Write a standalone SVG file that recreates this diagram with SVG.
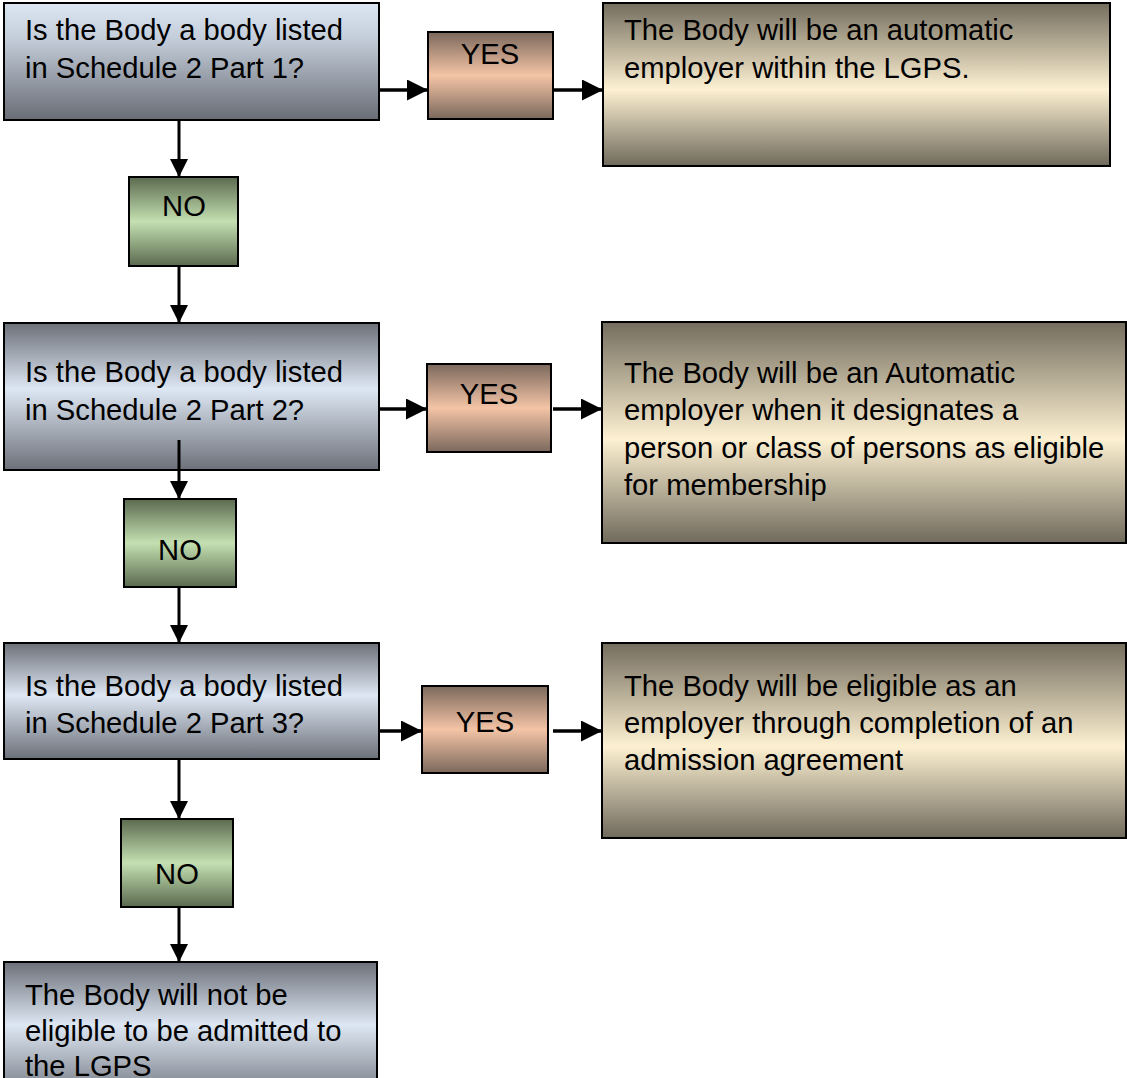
<svg xmlns="http://www.w3.org/2000/svg" width="1127" height="1078" viewBox="0 0 1127 1078">
<defs>
<linearGradient id="gBlueTop" x1="0" y1="0" x2="0" y2="1">
<stop offset="0" stop-color="#dde7f3"/>
<stop offset="0.3" stop-color="#c4ceda"/>
<stop offset="1" stop-color="#686c75"/>
</linearGradient>
<linearGradient id="gBlue" x1="0" y1="0" x2="0" y2="1">
<stop offset="0" stop-color="#6c7079"/>
<stop offset="0.45" stop-color="#dde7f3"/>
<stop offset="1" stop-color="#6c7079"/>
</linearGradient>
<linearGradient id="gYes" x1="0" y1="0" x2="0" y2="1">
<stop offset="0" stop-color="#7b685c"/>
<stop offset="0.5" stop-color="#f4c4a6"/>
<stop offset="1" stop-color="#7b685c"/>
</linearGradient>
<linearGradient id="gNo" x1="0" y1="0" x2="0" y2="1">
<stop offset="0" stop-color="#5b6a4f"/>
<stop offset="0.5" stop-color="#c4e0b1"/>
<stop offset="1" stop-color="#5b6a4f"/>
</linearGradient>
<linearGradient id="gRes" x1="0" y1="0" x2="0" y2="1">
<stop offset="0" stop-color="#746d5e"/>
<stop offset="0.53" stop-color="#fdf1d2"/>
<stop offset="1" stop-color="#706a5c"/>
</linearGradient>
<marker id="arr" markerWidth="6" markerHeight="6" refX="6" refY="3" orient="auto" markerUnits="strokeWidth">
<path d="M0,0 L6,3 L0,6 Z" fill="#000"/>
</marker>
<style>
.box{stroke:#000;stroke-width:2}
.t{font-family:"Liberation Sans",Arial,sans-serif;font-size:29.2px;fill:#000}
.c{text-anchor:middle}
.ln{stroke:#000;stroke-width:3;fill:none;marker-end:url(#arr)}
.lh{stroke:#000;stroke-width:3.5;fill:none;marker-end:url(#arr)}
</style>
</defs>
<rect width="1127" height="1078" fill="#fff"/>

<g id="connectors">
<line class="ln" x1="179" y1="120" x2="179" y2="177"/>
<line class="ln" x1="179" y1="266" x2="179" y2="323"/>
<line class="ln" x1="179" y1="440" x2="179" y2="499"/>
<line class="ln" x1="179" y1="587" x2="179" y2="643"/>
<line class="ln" x1="179" y1="759" x2="179" y2="819"/>
<line class="ln" x1="179" y1="907" x2="179" y2="962"/>
<line class="lh" x1="379" y1="90" x2="428" y2="90"/>
<line class="lh" x1="553" y1="90" x2="603" y2="90"/>
<line class="lh" x1="379" y1="409" x2="427" y2="409"/>
<line class="lh" x1="553" y1="409" x2="602" y2="409"/>
<line class="lh" x1="379" y1="731" x2="422" y2="731"/>
<line class="lh" x1="553" y1="731" x2="602" y2="731"/>
</g>

<g id="q1">
<rect class="box" x="4" y="3" width="375" height="117" fill="url(#gBlueTop)"/>
<text class="t" x="25" y="40">Is the Body a body listed</text>
<text class="t" x="25" y="78">in Schedule 2 Part 1?</text>
</g>
<g id="yes1">
<rect class="box" x="428" y="32" width="125" height="87" fill="url(#gYes)"/>
<text class="t c" x="490" y="64">YES</text>
</g>
<g id="r1">
<rect class="box" x="603" y="3" width="507" height="163" fill="url(#gRes)"/>
<text class="t" x="624" y="40">The Body will be an automatic</text>
<text class="t" x="624" y="78">employer within the LGPS.</text>
</g>
<g id="no1">
<rect class="box" x="129" y="177" width="109" height="89" fill="url(#gNo)"/>
<text class="t c" x="184" y="216">NO</text>
</g>

<g id="q2">
<rect class="box" x="4" y="323" width="375" height="147" fill="url(#gBlue)"/>
<text class="t" x="25" y="382">Is the Body a body listed</text>
<text class="t" x="25" y="420">in Schedule 2 Part 2?</text>
</g>
<line class="ln" x1="179" y1="440" x2="179" y2="470" style="marker-end:none"/>
<g id="yes2">
<rect class="box" x="427" y="364" width="124" height="88" fill="url(#gYes)"/>
<text class="t c" x="489" y="404">YES</text>
</g>
<g id="r2">
<rect class="box" x="602" y="322" width="524" height="221" fill="url(#gRes)"/>
<text class="t" x="624" y="383">The Body will be an Automatic</text>
<text class="t" x="624" y="420">employer when it designates a</text>
<text class="t" x="624" y="458">person or class of persons as eligible</text>
<text class="t" x="624" y="495">for membership</text>
</g>
<g id="no2">
<rect class="box" x="124" y="499" width="112" height="88" fill="url(#gNo)"/>
<text class="t c" x="180" y="560">NO</text>
</g>

<g id="q3">
<rect class="box" x="4" y="643" width="375" height="116" fill="url(#gBlue)"/>
<text class="t" x="25" y="696">Is the Body a body listed</text>
<text class="t" x="25" y="733">in Schedule 2 Part 3?</text>
</g>
<g id="yes3">
<rect class="box" x="422" y="686" width="126" height="87" fill="url(#gYes)"/>
<text class="t c" x="485" y="732">YES</text>
</g>
<g id="r3">
<rect class="box" x="602" y="643" width="524" height="195" fill="url(#gRes)"/>
<text class="t" x="624" y="696">The Body will be eligible as an</text>
<text class="t" x="624" y="733">employer through completion of an</text>
<text class="t" x="624" y="770">admission agreement</text>
</g>
<g id="no3">
<rect class="box" x="121" y="819" width="112" height="88" fill="url(#gNo)"/>
<text class="t c" x="177" y="884">NO</text>
</g>

<g id="end">
<rect class="box" x="4" y="962" width="373" height="140" fill="url(#gBlue)"/>
<text class="t" x="25" y="1005">The Body will not be</text>
<text class="t" x="25" y="1041">eligible to be admitted to</text>
<text class="t" x="25" y="1076">the LGPS</text>
</g>
</svg>
